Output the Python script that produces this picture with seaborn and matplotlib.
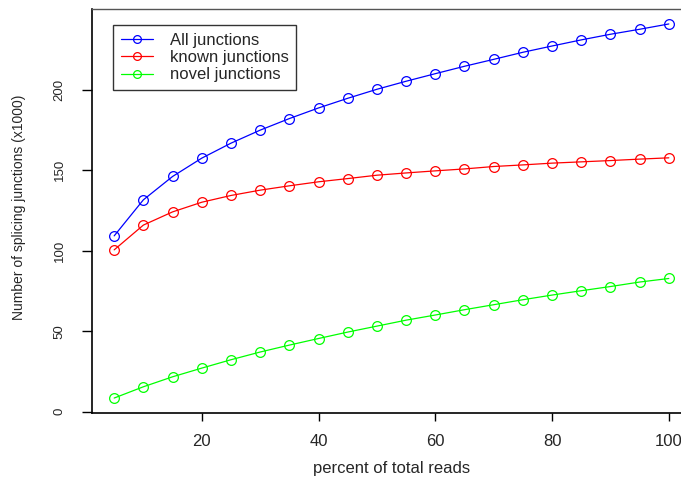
import numpy as np
import pandas as pd
import matplotlib
matplotlib.use("Agg")
import matplotlib.pyplot as plt
import seaborn as sns

percent = [5, 10, 15, 20, 25, 30, 35, 40, 45, 50, 55, 60, 65, 70, 75, 80, 85, 90, 95, 100]
all_junctions = [109.3, 131.7, 146.2, 157.6, 166.9, 175.0, 182.2, 188.8, 194.8, 200.4,
                 205.4, 210.1, 214.7, 219.0, 223.4, 227.3, 231.1, 234.6, 237.7, 241.0]
known_junctions = [100.6, 116.0, 124.2, 130.2, 134.4, 137.7, 140.4, 142.9, 144.9, 147.0,
                   148.4, 149.7, 150.9, 152.4, 153.4, 154.5, 155.3, 156.1, 157.0, 157.8]
novel_junctions = [8.5, 15.5, 21.7, 27.1, 32.3, 37.1, 41.4, 45.5, 49.5, 53.2,
                   56.9, 60.1, 63.4, 66.5, 69.6, 72.5, 75.2, 77.8, 80.6, 82.8]
series_names = ["All junctions", "known junctions", "novel junctions"]
series_colors = ["#0000FF", "#FF0000", "#00FF00"]
x_ticks = [20, 40, 60, 80, 100]
y_ticks = [0, 50, 100, 150, 200]

sns.set_style("white")
plt.rcParams["font.family"] = ["Liberation Sans", "DejaVu Sans"]

W, H = 681, 479
fig = plt.figure(figsize=(W / 100, H / 100), dpi=100)
# axes extends past right edge (cropped like reference)
left, right, top, bottom = 92, 691, 9, 413
aw, ah = right - left, bottom - top
ax = fig.add_axes([left / W, (H - bottom) / H, aw / W, ah / H])

df = pd.DataFrame({
    "percent": percent * 3,
    "value": all_junctions + known_junctions + novel_junctions,
    "series": [series_names[0]] * 20 + [series_names[1]] * 20 + [series_names[2]] * 20,
})

for name, col in zip(series_names, series_colors):
    sub = df[df["series"] == name]
    sns.lineplot(data=sub, x="percent", y="value", ax=ax, color=col, label=name,
                 marker="o", markersize=7, markerfacecolor="none",
                 markeredgecolor=col, markeredgewidth=0.9, linewidth=0.9)

ax.set_xlim(1.2, 103.8)
ax.set_ylim(-0.8, 250.3)
ax.set_xticks(x_ticks)
ax.set_yticks(y_ticks)
ax.set_xticklabels([str(v) for v in x_ticks], fontsize=12)
ax.set_yticklabels([str(v) for v in y_ticks], fontsize=9.5, rotation=90, va="center")
ax.tick_params(axis="x", direction="out", length=5.5, width=1, color="black", bottom=True, pad=9.5)
ax.tick_params(axis="y", direction="out", length=7.2, width=1, color="black", left=True, pad=16)
for lab in ax.get_yticklabels():
    lab.set_ha("center")

for s in ["left", "bottom"]:
    ax.spines[s].set_color("black")
    ax.spines[s].set_linewidth(1.2)
ax.spines["top"].set_color("#555555")
ax.spines["top"].set_linewidth(1.0)
ax.spines["right"].set_color("#555555")

ax.set_xlabel("percent of total reads", fontsize=12, va="center")
ax.xaxis.set_label_coords(0.5, (bottom - 469) / ah)
ax.set_ylabel("Number of splicing junctions (x1000)", fontsize=10, va="center", ha="center")
ax.yaxis.set_label_coords((19 - left) / aw, (bottom - 207) / ah)

leg = ax.legend(loc="upper left", bbox_to_anchor=((113 - left) / aw, 1 - (25 - top) / ah),
                frameon=True, fancybox=False, edgecolor="black", fontsize=12,
                handlelength=1.95, handletextpad=1.0, borderpad=0.45, labelspacing=0.15,
                borderaxespad=0, markerscale=0.8)
leg.get_frame().set_linewidth(1.0)

fig.savefig("out.png", dpi=100)
